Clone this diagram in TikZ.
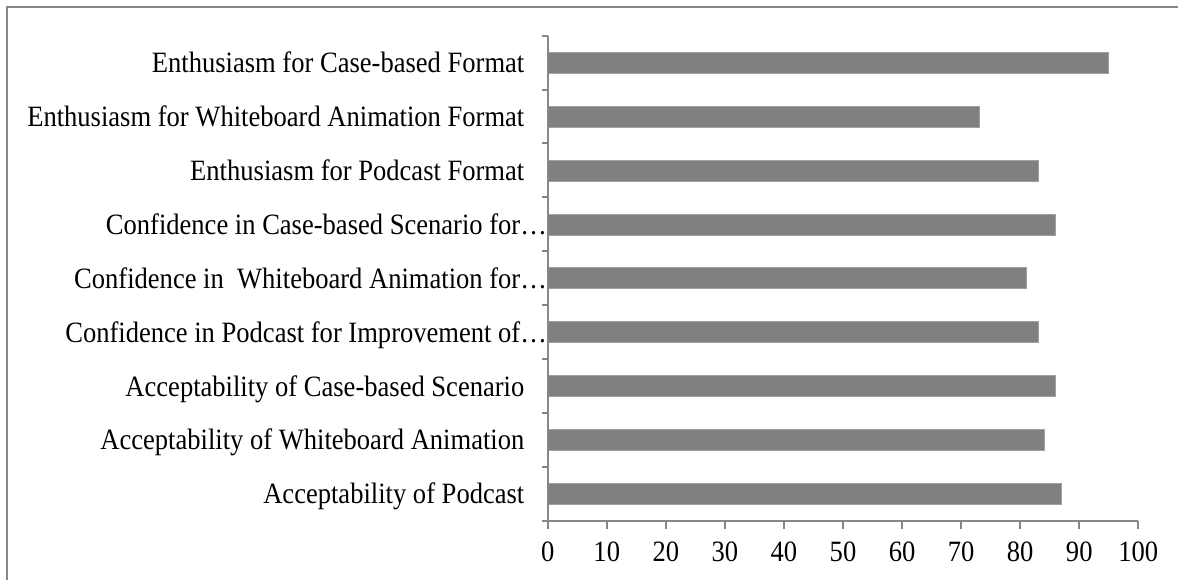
\documentclass[tikz,border=0pt]{standalone}
\usepackage{fontspec}
\setmainfont[FakeStretch=0.9]{Liberation Serif}
\definecolor{bargray}{HTML}{808080}
\definecolor{axisgray}{HTML}{878787}
\begin{document}
\begin{tikzpicture}[x=1pt,y=-1pt,
  lbl/.style={font=\fontsize{29.5}{32}\selectfont,inner sep=0pt},
  axisline/.style={axisgray,line width=2pt},
  bar/.style={fill=bargray,draw=bargray!75,line width=0.6pt}]
\useasboundingbox (0,0) rectangle (1178,580);
% frame
\draw[axisline] (7.3,580)--(7.3,7.3)--(1178,7.3);
% bars
\foreach \v [count=\i from 0] in {95,73,83,86,81,83,86,84,87}
  \draw[bar] (548.7,{35.7+53.9*(\i+0.5)-10.5}) rectangle ({547.7+5.906*\v},{35.7+53.9*(\i+0.5)+10.5});
% category labels
\foreach \t/\xe [count=\i from 0] in {Enthusiasm for Case-based Format/524.5,
    Enthusiasm for Whiteboard Animation Format/524.5,
    Enthusiasm for Podcast Format/524.5,
    Confidence in Case-based Scenario for…/547,
    Confidence in\ \ Whiteboard Animation for…/547,
    Confidence in Podcast for Improvement of…/547,
    Acceptability of Case-based Scenario/524.5,
    Acceptability of Whiteboard Animation/524.5,
    Acceptability of Podcast/524.5}
  \node[lbl,anchor=base east] (cat\i) at (\xe,{35.7+53.9*(\i+0.5)+10}) {\t};
% axes
\draw[axisline] (547.7,35.7)--(547.7,520.7)--(1138.3,520.7);
\foreach \i in {0,...,9}
  \draw[axisline] (541.7,{35.7+53.9*\i})--(547.7,{35.7+53.9*\i});
\foreach \n in {0,10,...,100}{
  \draw[axisline] ({547.7+5.906*\n},520.7)--({547.7+5.906*\n},528.5);
  \node[lbl,anchor=base] (tick\n) at ({547.7+5.906*\n},561.7) {\n};
}
\end{tikzpicture}
\end{document}
